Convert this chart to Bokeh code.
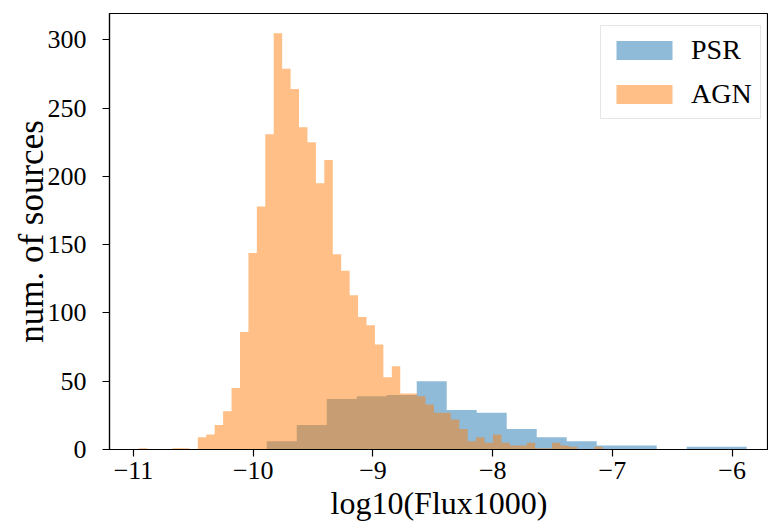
import numpy as np
from bokeh.plotting import figure
from bokeh.models import Range1d, FixedTicker, Legend, LegendItem
from bokeh.embed import file_html
from bokeh.resources import INLINE

# ---- data ----
agn_bin_start = -10.956
agn_bin_width = 0.07044
agn_counts = [1, 0, 0, 0, 1, 1, 0,
              9, 11, 18, 28, 45, 86, 144, 178, 231, 305,
              279, 264, 236, 225, 195, 212, 143, 131, 113, 97,
              91, 77, 53, 61, 41, 41, 39, 33, 27, 27,
              22, 15, 6, 9, 5, 11, 5, 3, 3, 5,
              1, 1, 5, 3, 2, 0, 0, 2]

psr_bin_start = -9.887
psr_bin_width = 0.2505
psr_counts = [6, 18, 37, 39, 40, 50, 29, 27, 15, 9, 6, 3, 3, 0, 2, 2]

x_ticks = [-11, -10, -9, -8, -7, -6]
x_tick_labels = ["\u221211", "\u221210", "\u22129", "\u22128", "\u22127", "\u22126"]
y_ticks = [0, 50, 100, 150, 200, 250, 300]

series_names = ["PSR", "AGN"]
x_label = "log10(Flux1000)"
y_label = "num. of sources"


def step_outline(start, width, counts):
    """Outline of a histogram (one polygon per series) from its bins and counts."""
    edges = start + width * np.arange(len(counts) + 1)
    xs = [edges[0]]
    ys = [0]
    for i, c in enumerate(counts):
        xs += [edges[i], edges[i + 1]]
        ys += [c, c]
    xs.append(edges[-1])
    ys.append(0)
    return xs, ys


FONT = "Liberation Serif"

p = figure(width=768, height=524, output_backend="svg", toolbar_location=None,
           x_range=Range1d(-11.2004, -5.6968), y_range=Range1d(0, 319.4),
           min_border_left=109, min_border_right=0, min_border_top=13,
           min_border_bottom=75)
p.background_fill_color = "white"
p.border_fill_color = "white"
p.outline_line_color = "black"
p.outline_line_width = 1.2
p.xgrid.visible = False
p.ygrid.visible = False

psr_x, psr_y = step_outline(psr_bin_start, psr_bin_width, psr_counts)
agn_x, agn_y = step_outline(agn_bin_start, agn_bin_width, agn_counts)

r_psr = p.patch(psr_x, psr_y, fill_color="#1f77b4", fill_alpha=0.5, line_color=None)
r_agn = p.patch(agn_x, agn_y, fill_color="#ff7f0e", fill_alpha=0.5, line_color=None)

for ax in (p.xaxis[0], p.yaxis[0]):
    ax.axis_line_color = "black"
    ax.axis_line_width = 1.2
    ax.major_tick_line_color = "black"
    ax.major_tick_line_width = 1.2
    ax.major_tick_out = 7
    ax.major_tick_in = 0
    ax.minor_tick_line_color = None
    ax.major_label_text_font = FONT
    ax.major_label_text_font_size = "26px"
    ax.major_label_text_color = "black"
    ax.axis_label_text_font = FONT
    ax.axis_label_text_font_style = "normal"
    ax.axis_label_text_color = "black"

p.xaxis[0].ticker = FixedTicker(ticks=x_ticks)
p.xaxis[0].major_label_overrides = {t: s for t, s in zip(x_ticks, x_tick_labels)}
p.xaxis[0].axis_label = x_label
p.xaxis[0].axis_label_text_font_size = "32px"
p.xaxis[0].major_label_standoff = 5
p.xaxis[0].axis_label_standoff = 3

p.yaxis[0].ticker = FixedTicker(ticks=y_ticks)
p.yaxis[0].axis_label = y_label
p.yaxis[0].axis_label_text_font_size = "35px"
p.yaxis[0].major_label_standoff = 16
p.yaxis[0].axis_label_standoff = -6

legend = Legend(items=[LegendItem(label=series_names[0], renderers=[r_psr]),
                       LegendItem(label=series_names[1], renderers=[r_agn])],
                location=(491, 330))
legend.label_text_font = FONT
legend.label_text_font_size = "28px"
legend.label_text_color = "black"
legend.glyph_width = 70
legend.glyph_height = 24
legend.label_height = 31
legend.label_standoff = 12
legend.spacing = 12
legend.padding = 8
legend.margin = 0
legend.border_line_color = "#cccccc"
legend.border_line_width = 1
legend.background_fill_color = "white"
legend.background_fill_alpha = 0.8
p.add_layout(legend)

open("out.html", "w").write(file_html(p, INLINE))
